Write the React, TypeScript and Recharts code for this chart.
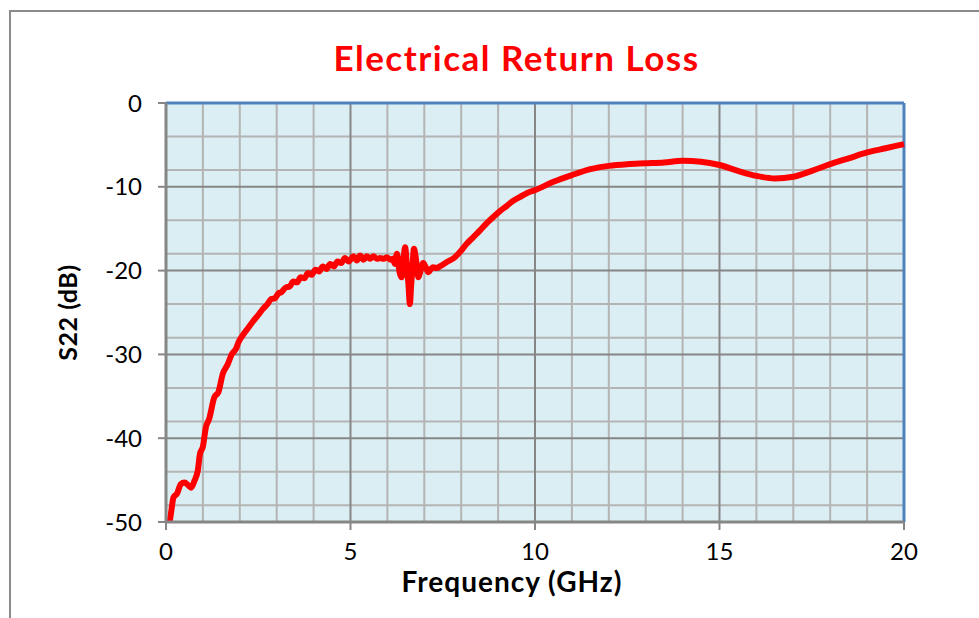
import React from "react";
import {
  LineChart,
  Line,
  XAxis,
  YAxis,
  CartesianGrid,
} from "recharts";

// frequency (GHz) and S22 (dB)
const freqs = [
  0.1, 0.15, 0.2, 0.3, 0.4, 0.5, 0.6, 0.68, 0.77, 0.86, 0.92, 1.0, 1.08, 1.17,
  1.31, 1.42, 1.54, 1.67, 1.78, 1.9, 1.96, 2.1, 2.2, 2.35, 2.5, 2.62, 2.75,
  2.85, 2.95, 3.05, 3.12, 3.25, 3.35, 3.45, 3.55, 3.65, 3.75, 3.85, 3.95, 4.05,
  4.15, 4.25, 4.35, 4.45, 4.55, 4.65, 4.75, 4.85, 4.95, 5.08, 5.17, 5.26, 5.35,
  5.44, 5.53, 5.62, 5.72, 5.8, 5.9, 5.98, 6.08, 6.15, 6.2, 6.26, 6.33, 6.39,
  6.44, 6.48, 6.53, 6.57, 6.61, 6.64, 6.68, 6.72, 6.77, 6.84, 6.9, 6.97, 7.04,
  7.11, 7.18, 7.24, 7.33, 7.42, 7.6, 7.83, 8.0, 8.15, 8.33, 8.51, 8.7, 8.87,
  9.05, 9.23, 9.4, 9.6, 9.8, 10.0, 10.5, 11, 11.5, 12, 12.5, 13, 13.5, 14,
  14.5, 15, 15.5, 16, 16.5, 17, 17.5, 18, 18.5, 19, 19.5, 20,
];
const s22 = [
  -50, -48.5, -47.1, -46.6, -45.5, -45.3, -45.6, -45.9, -45.1, -43.9, -41.9,
  -41.0, -38.7, -37.7, -35.1, -34.5, -32.3, -31.2, -30.0, -29.3, -28.6, -27.6,
  -27.0, -26.1, -25.3, -24.6, -24.0, -23.4, -23.3, -22.7, -22.6, -22.0, -21.9,
  -21.3, -21.4, -20.8, -20.9, -20.3, -20.5, -19.9, -20.1, -19.5, -19.8, -19.2,
  -19.5, -18.9, -19.1, -18.5, -18.9, -18.3, -18.8, -18.2, -18.7, -18.3, -18.6,
  -18.3, -18.6, -18.5, -18.6, -18.4, -18.7, -18.6, -19.2, -18.0, -20.2, -20.8,
  -18.5, -17.2, -19.5, -21.6, -24.0, -22.0, -19.5, -17.4, -18.5, -20.8, -20.0,
  -19.1, -19.6, -20.2, -19.8, -19.6, -19.7, -19.5, -19.0, -18.4, -17.6, -16.8,
  -16.0, -15.2, -14.3, -13.6, -12.9, -12.3, -11.7, -11.2, -10.7, -10.4, -9.4,
  -8.6, -7.9, -7.5, -7.3, -7.2, -7.1, -6.9, -7.0, -7.4, -8.1, -8.7, -9.0, -8.8,
  -8.1, -7.3, -6.6, -5.9, -5.4, -4.9,
];

const xTicks = [0, 5, 10, 15, 20];
const yTicks = [-50, -40, -30, -20, -10, 0];
const xMinor = [1, 2, 3, 4, 6, 7, 8, 9, 11, 12, 13, 14, 16, 17, 18, 19];
const yMinor = [
  -2, -4, -6, -8, -12, -14, -16, -18, -22, -24, -26, -28, -32, -34, -36, -38,
  -42, -44, -46, -48,
];

const data = freqs.map((f, i) => ({ f, s22: s22[i] }));

const FONT = "Lato, 'Open Sans', sans-serif";

const YTitle = (props: any) => {
  const vb = props.viewBox || {};
  const cy = vb.y + vb.height / 2;
  return (
    <text
      x={67}
      y={cy}
      transform={`rotate(-90, 67, ${cy})`}
      textAnchor='middle'
      dominantBaseline='central'
      fontFamily={FONT}
      fontWeight='bold'
      fontSize={25}
      letterSpacing={0.5}
      fill='#000'
    >
      S22 (dB)
    </text>
  );
};

const XTitle = () => {
  return (
    <text
      x={512}
      y={581}
      textAnchor='middle'
      dominantBaseline='central'
      fontFamily={FONT}
      fontWeight='bold'
      fontSize={28}
      letterSpacing={1}
      fill='#000'
    >
      Frequency (GHz)
    </text>
  );
};

export default function App() {
  return (
    <div
      style={{
        position: "absolute",
        left: 0,
        top: 0,
        width: 979,
        height: 618,
        overflow: "hidden",
        background: "#fff",
      }}
    >
      <div
        style={{
          position: "absolute",
          left: 9,
          top: 10,
          width: 1100,
          height: 800,
          border: "2px solid #8a8a8a",
        }}
      />
      <div
        style={{
          position: "absolute",
          left: 0,
          top: 36,
          width: 1033,
          textAlign: "center",
          fontFamily: FONT,
          fontWeight: "bold",
          fontSize: 35,
          letterSpacing: 1.5,
          color: "#FF0000",
        }}
      >
        Electrical Return Loss
      </div>
      <div style={{ position: "absolute", left: 0, top: 0 }}>
        <LineChart
          width={979}
          height={618}
          data={data}
          margin={{ top: 103, right: 75, bottom: 46, left: 0 }}
        >
          <CartesianGrid
            fill='#DBEEF3'
            stroke='#B4B4B4'
            strokeWidth={2}
            horizontalValues={yMinor}
            verticalValues={xMinor}
          />
          <CartesianGrid
            fill='none'
            stroke='#868686'
            strokeWidth={2}
            horizontalValues={[-10, -20, -30, -40]}
            verticalValues={[5, 10, 15]}
          />
          <CartesianGrid
            fill='none'
            stroke='#4F81BD'
            strokeWidth={3}
            horizontalValues={[0]}
            verticalValues={[20]}
          />
          <XAxis
            dataKey='f'
            type='number'
            domain={[0, 20]}
            ticks={xTicks}
            height={50}
            tickSize={8}
            tickMargin={13}
            axisLine={{ stroke: "#868686", strokeWidth: 3 }}
            tickLine={{ stroke: "#868686", strokeWidth: 2 }}
            tick={{ fill: "#000", fontSize: 24, fontFamily: FONT }}
            label={<XTitle />}
          />
          <YAxis
            type='number'
            domain={[-50, 0]}
            ticks={yTicks}
            width={166}
            allowDataOverflow
            tickSize={8}
            tickMargin={16}
            axisLine={{ stroke: "#868686", strokeWidth: 3 }}
            tickLine={{ stroke: "#868686", strokeWidth: 2 }}
            tick={{ fill: "#000", fontSize: 24, fontFamily: FONT }}
            label={<YTitle />}
          />
          <Line
            dataKey='s22'
            type='monotone'
            stroke='#FF0000'
            strokeWidth={6}
            dot={false}
            isAnimationActive={false}
          />
        </LineChart>
      </div>
    </div>
  );
}
